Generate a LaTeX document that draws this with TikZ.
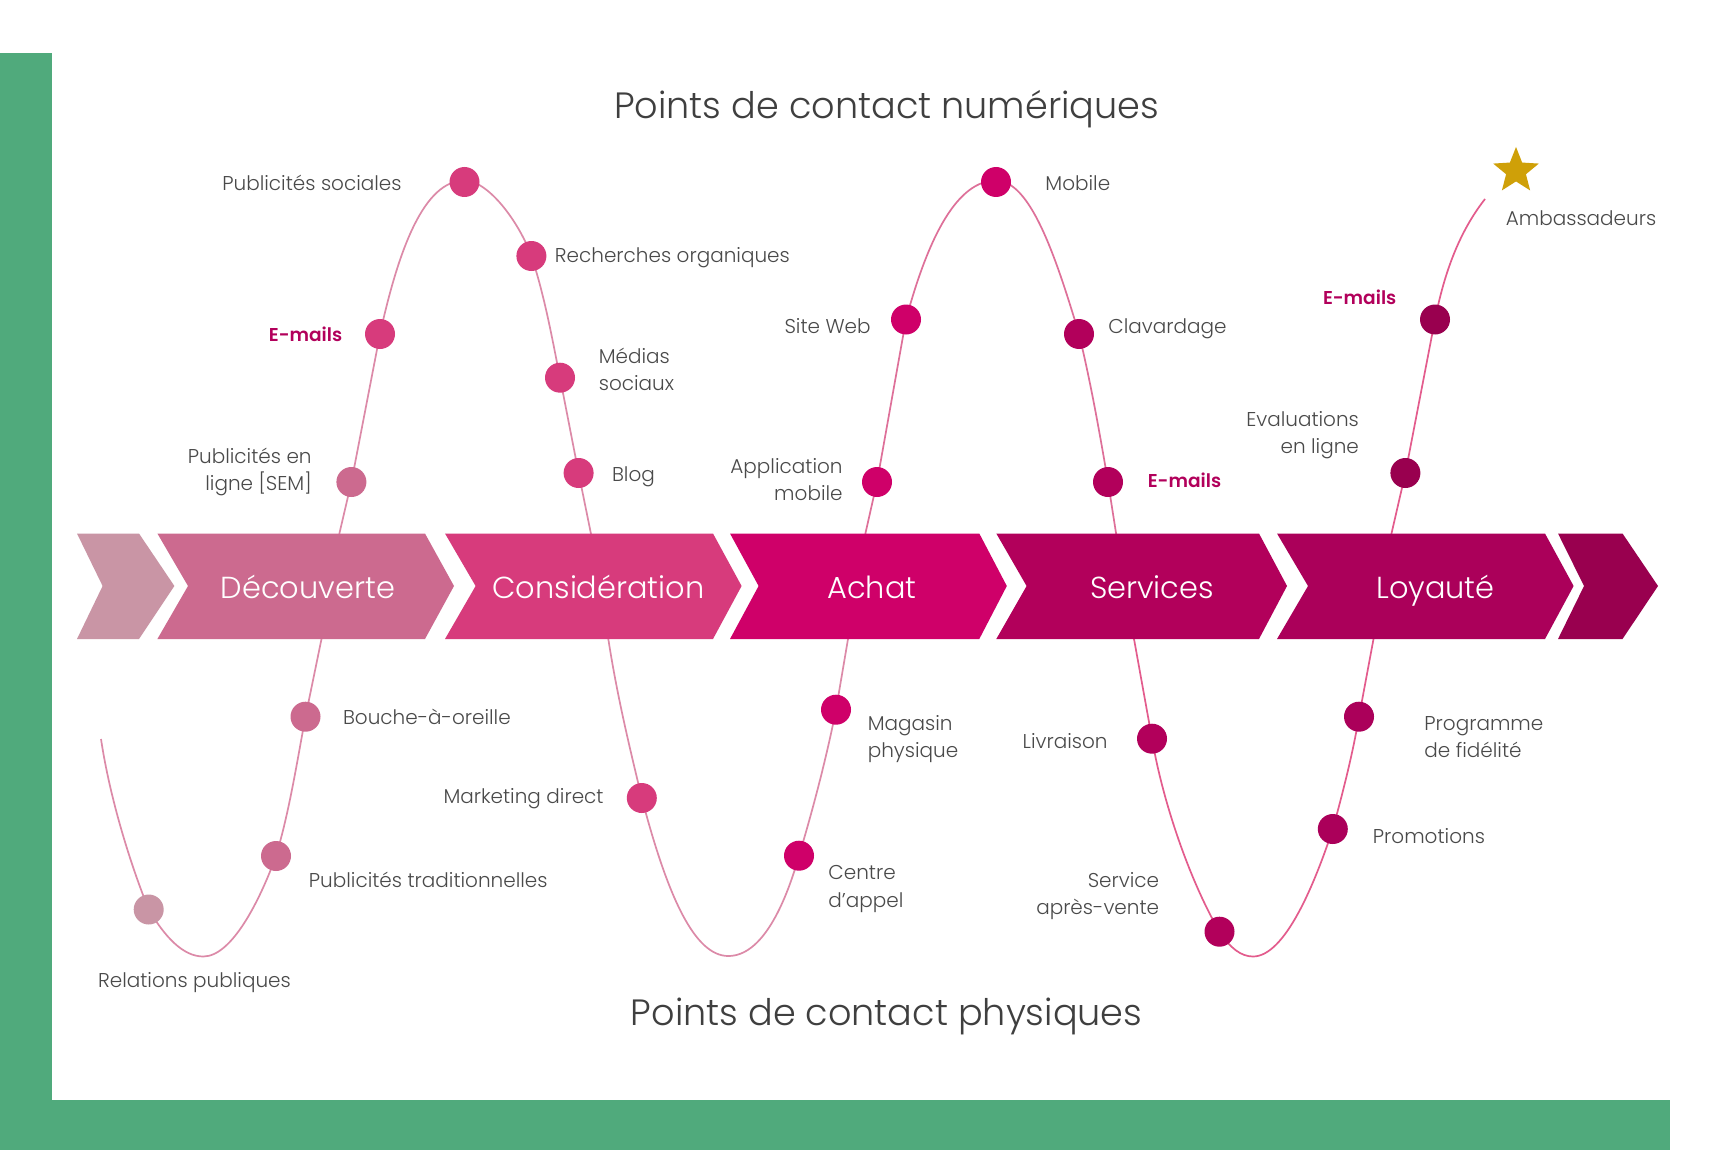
\documentclass[tikz,border=0pt]{standalone}
\usepackage{fontspec}
\setmainfont{Poppins}[UprightFont=* Light,BoldFont=* SemiBold]
\usetikzlibrary{shapes.geometric}
\pgfdeclarelayer{bg}
\pgfsetlayers{bg,main}
\definecolor{cgreen}{HTML}{50AA7C}
\definecolor{cA}{HTML}{C995A5}
\definecolor{cB}{HTML}{CC6A8F}
\definecolor{cC}{HTML}{D73B7C}
\definecolor{cD}{HTML}{CF0069}
\definecolor{cE}{HTML}{B2005B}
\definecolor{cF}{HTML}{AB005A}
\definecolor{cG}{HTML}{99004F}
\definecolor{ctext}{HTML}{4A4A4A}
\definecolor{cgold}{HTML}{CFA008}
\definecolor{clineA}{HTML}{DC8AA8}
\definecolor{clineB}{HTML}{DE7099}
\definecolor{clineC}{HTML}{E35C8D}
\tikzset{
  dot/.style={circle,fill=#1,minimum size=15pt,inner sep=0pt,draw=none},
  lab/.style={font=\fontsize{10}{13.7}\selectfont,text=ctext,inner sep=0pt},
  labl/.style={lab,anchor=west,align=left},
  labr/.style={lab,anchor=east,align=right},
  mail/.style={font=\fontsize{9.3}{12}\selectfont\bfseries,text=cE,inner sep=0pt},
  ttl/.style={font=\fontsize{18.3}{22}\selectfont,text=ctext!85!black,inner sep=0pt,anchor=base},
  chevlab/.style={font=\fontsize{15.2}{18}\selectfont,text=white,inner sep=0pt,anchor=base},
  chev/.style={fill=#1,draw=none},
  curve/.style={line width=0.85pt,draw=#1},
}
\newcommand{\chevron}[5]{%
  \path[chev=#5] (#1,533.5) -- (#3,533.5) -- (#4,586) -- (#3,639) -- (#1,639) -- (#2,586) -- cycle;}
\begin{document}
\begin{tikzpicture}[x=0.5pt,y=-0.5pt]
\useasboundingbox (0,0) rectangle (1722,1150);
% chevrons
\chevron{77}{102.6}{139}{174.4}{cA}
\chevron{157.4}{188}{425}{454}{cB}
\chevron{445}{475.6}{713}{741.6}{cC}
\chevron{730}{758.6}{979.3}{1006.8}{cD}
\chevron{996.3}{1026.6}{1259}{1287}{cE}
\chevron{1277}{1308}{1545}{1573.6}{cF}
\chevron{1558}{1584}{1622.5}{1658}{cG}
\node[chevlab] (tD) at (308,598) {Découverte};
\node[chevlab] (tC) at (598.4,598) {Considération};
\node[chevlab] (tA) at (872,598) {Achat};
\node[chevlab] (tS) at (1152,598) {Services};
\node[chevlab] (tL) at (1435.5,598) {Loyauté};
% dots upper
\node[dot=cC] (psoc) at (464.5,182) {};
\node[dot=cC] (rech) at (531.4,256) {};
\node[dot=cC] (med) at (560,377.7) {};
\node[dot=cC] (blog) at (578.6,473) {};
\node[dot=cC] (mailA) at (380,334) {};
\node[dot=cB] (sem) at (351.4,482) {};
\node[dot=cD] (mob) at (996,182) {};
\node[dot=cD] (site) at (906,319.5) {};
\node[dot=cD] (app) at (877,482) {};
\node[dot=cE] (clav) at (1079,334) {};
\node[dot=cE] (mailB) at (1108,482) {};
\node[dot=cG] (mailC) at (1435,319.5) {};
\node[dot=cG] (eval) at (1405.4,473) {};
\node[star,star points=5,star point ratio=2.3,fill=cgold,minimum size=24pt,inner sep=0pt] (amb) at (1516,171) {};
% dots lower
\node[dot=cB] (bou) at (305.5,716.7) {};
\node[dot=cB] (ptr) at (276,856) {};
\node[dot=cA] (rel) at (148.7,909.5) {};
\node[dot=cC] (mkt) at (641.8,798) {};
\node[dot=cD] (mag) at (836,709.7) {};
\node[dot=cD] (cen) at (799,855.7) {};
\node[dot=cE] (liv) at (1152,738.7) {};
\node[dot=cE] (sav) at (1219.5,931.7) {};
\node[dot=cF] (prog) at (1359,716.7) {};
\node[dot=cF] (promo) at (1332.8,829) {};
% labels
\node[labr] (lpsoc) at (402,183) {Publicités sociales};
\node[labl] (lrech) at (554.5,258) {Recherches organiques};
\node[labl] (lmed) at (598.4,369.5) {Médias\\sociaux};
\node[labl] (lblog) at (611.6,477) {Blog};
\node[mail,anchor=east] (lmA) at (342.6,334) {E-mails};
\node[labr] (lsem) at (312,472) {Publicités en\\ligne [SEM]};
\node[labl] (lmob) at (1045,183) {Mobile};
\node[labr] (lsite) at (871,326) {Site Web};
\node[labl] (lclav) at (1108,329) {Clavardage};
\node[labr] (lapp) at (843,479.5) {Application\\mobile};
\node[mail,anchor=west] (lmB) at (1147.4,480) {E-mails};
\node[labl] (lamb) at (1505.4,218.5) {Ambassadeurs};
\node[mail,anchor=east] (lmC) at (1396.7,297.6) {E-mails};
\node[labr] (leval) at (1359.3,435) {Evaluations\\en ligne};
\node[labl] (lbou) at (342.6,716.5) {Bouche-à-oreille};
\node[labr] (lmkt) at (604,799) {Marketing direct};
\node[labl] (lmag) at (867.4,739) {Magasin\\physique};
\node[labr] (lliv) at (1108,741) {Livraison};
\node[labl] (lprog) at (1424,737) {Programme\\de fidélité};
\node[labl] (lpromo) at (1372.5,836) {Promotions};
\node[labl] (lptr) at (308.5,880) {Publicités traditionnelles};
\node[labl] (lcen) at (828,889) {Centre\\d'appel};
\node[labr] (lsav) at (1159.5,896) {Service\\après-vente};
\node[labl] (lrel) at (97.7,983) {Relations publiques};
\node[ttl] (t1) at (886.6,118.6) {Points de contact numériques};
\node[ttl] (t2) at (886.6,1025.5) {Points de contact physiques};
% free points of the curve
\coordinate (cs) at (101,739);
\coordinate (ce) at (1485,199);
\coordinate (v0) at (203.3,956.5);
\coordinate (v1) at (728.3,956);
\coordinate (v2) at (1253,956.5);
\coordinate (p1) at (464.5,180.5);
\coordinate (p2) at (996,180.5);
\coordinate (a1) at (321.5,639);
\coordinate (a2) at (339.5,533);
\coordinate (b1) at (590.8,533);
\coordinate (b2) at (608.3,639);
\coordinate (c1) at (848,639);
\coordinate (c2) at (865.5,533);
\coordinate (d1) at (1116,533);
\coordinate (d2) at (1134,639);
\coordinate (e1) at (1373.5,639);
\coordinate (e2) at (1391.6,533);
\begin{pgfonlayer}{bg}
\fill[white] (0,0) rectangle (1722,1150);
\fill[cgreen] (0,53) rectangle (52,1150);
\fill[cgreen] (0,1100) rectangle (1670,1150);
\def\crv{
 (cs) .. controls (110,799) and (130.7,865) .. (rel.center)
 .. controls (165,937) and (183,956.5) .. (v0)
 .. controls (232,956.5) and (260,900) .. (ptr.center)
 .. controls (289.5,811) and (297,761.7) .. (bou.center)
 -- (a1) -- (a2) -- (sem.center) -- (mailA.center)
 .. controls (398.7,249) and (424,180.5) .. (p1)
 .. controls (488,180.5) and (518.5,221) .. (rech.center)
 .. controls (544.6,296) and (552,337.7) .. (med.center)
 -- (blog.center) -- (b1) -- (b2)
 .. controls (617,695) and (629,745) .. (mkt.center)
 .. controls (668,898) and (695,956) .. (v1)
 .. controls (762,956) and (785,905) .. (cen.center)
 .. controls (813.4,807.7) and (826.4,757.7) .. (mag.center)
 -- (c1) -- (c2) -- (app.center) -- (site.center)
 .. controls (929,234.5) and (958,180.5) .. (p2)
 .. controls (1030,180.5) and (1055,254) .. (clav.center)
 .. controls (1091,384) and (1099.5,432) .. (mailB.center)
 -- (d1) -- (d2) -- (liv.center)
 .. controls (1163,803) and (1190,881) .. (sav.center)
 .. controls (1230,948) and (1241,956.5) .. (v2)
 .. controls (1285,956.5) and (1314.6,884) .. (promo.center)
 .. controls (1343,792) and (1352.7,753.7) .. (prog.center)
 -- (e1) -- (e2) -- (eval.center) -- (mailC.center)
 .. controls (1443,280) and (1456,236) .. (ce)}
\begin{scope}
\clip (52,0) rectangle (857,1100);
\draw[curve=clineA] \crv;
\end{scope}
\begin{scope}
\clip (857,0) rectangle (1125,1100);
\draw[curve=clineB] \crv;
\end{scope}
\begin{scope}
\clip (1125,0) rectangle (1722,1100);
\draw[curve=clineC] \crv;
\end{scope}
\end{pgfonlayer}
\end{tikzpicture}
\end{document}
